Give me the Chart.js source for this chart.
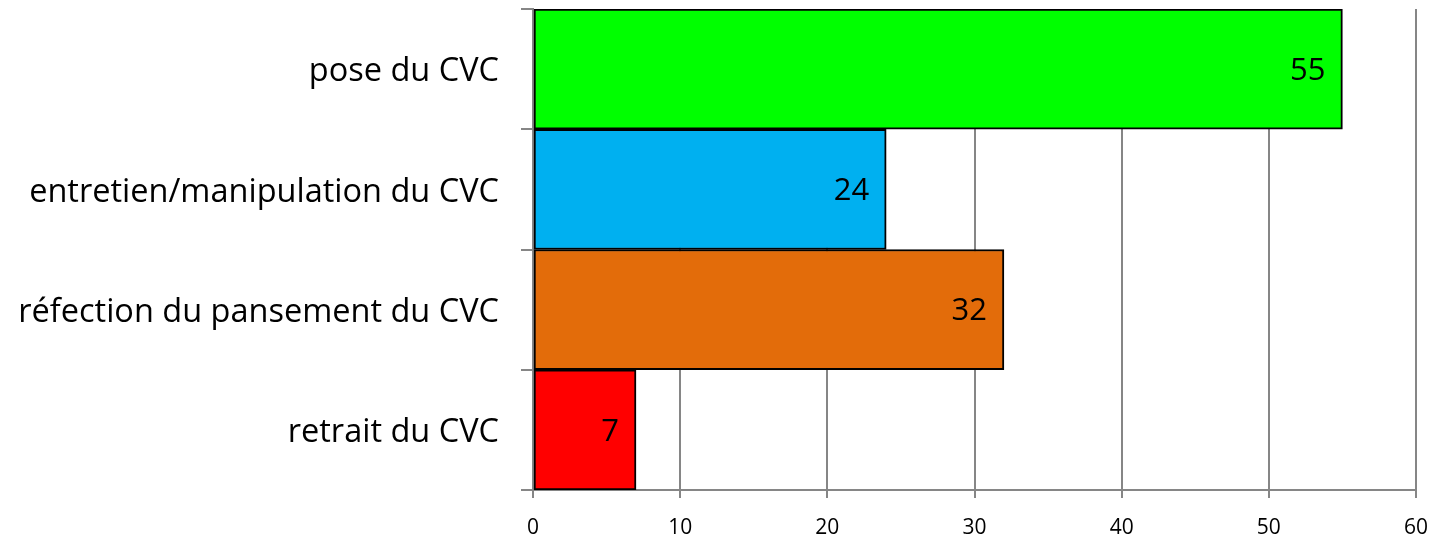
<!DOCTYPE html>
<html>
<head>
<meta charset="utf-8">
<script src="https://cdn.jsdelivr.net/npm/chart.js@4.4.1/dist/chart.umd.min.js"></script>
<style>
  html, body { margin: 0; padding: 0; background: #fff; }
  #wrap { width: 1434px; height: 538px; }
</style>
</head>
<body>
<div id="wrap"><canvas id="c" width="1434" height="538"></canvas></div>
<script>
const categories = [
  'pose du CVC',
  'entretien/manipulation du CVC',
  'réfection du pansement du CVC',
  'retrait du CVC'
];
const values = [55, 24, 32, 7];
const barColors = ['#00ff00', '#00b0f0', '#e36c0a', '#ff0000'];
const xTicks = [0, 10, 20, 30, 40, 50, 60];

const FONT = "'Open Sans', 'Noto Sans', sans-serif";
const GRID = '#868686';

// Writes each bar's value just inside its right end
const valueLabels = {
  id: 'valueLabels',
  afterDatasetsDraw(chart) {
    const ctx = chart.ctx;
    const meta = chart.getDatasetMeta(0);
    ctx.save();
    ctx.font = '31px ' + FONT;
    ctx.fillStyle = '#000';
    ctx.textAlign = 'right';
    ctx.textBaseline = 'middle';
    meta.data.forEach((bar, i) => {
      ctx.fillText(String(values[i]), bar.x - 17, bar.y + 2);
    });
    ctx.restore();
  }
};

new Chart(document.getElementById('c'), {
  type: 'bar',
  data: {
    labels: categories,
    datasets: [{
      data: values,
      backgroundColor: barColors,
      borderColor: '#000',
      borderWidth: 2,
      borderSkipped: false,
      barPercentage: 1,
      categoryPercentage: 1
    }]
  },
  options: {
    indexAxis: 'y',
    responsive: false,
    animation: false,
    devicePixelRatio: 1,
    layout: { padding: { top: 9, right: 18, left: 0, bottom: 0 } },
    plugins: { legend: { display: false }, tooltip: { enabled: false } },
    scales: {
      x: {
        min: 0, max: 60,
        afterBuildTicks(scale) { scale.ticks = xTicks.map(v => ({ value: v })); },
        afterFit(scale) { scale.height = 48; scale.paddingLeft = 0; scale.paddingRight = 0; },
        grid: { color: GRID, lineWidth: 2, tickLength: 8, drawTicks: true },
        border: { color: GRID, width: 2 },
        ticks: { color: '#000', font: { family: FONT, size: 21 }, padding: 17 }
      },
      y: {
        afterFit(scale) { scale.width = 533; scale.paddingTop = 0; scale.paddingBottom = 0; },
        grid: { offset: true, drawOnChartArea: false, color: GRID, lineWidth: 2, tickLength: 12 },
        border: { color: GRID, width: 2 },
        ticks: { color: '#000', font: { family: FONT, size: 32.5 }, padding: 22, labelOffset: 3 }
      }
    }
  },
  plugins: [valueLabels]
});
</script>
</body>
</html>
